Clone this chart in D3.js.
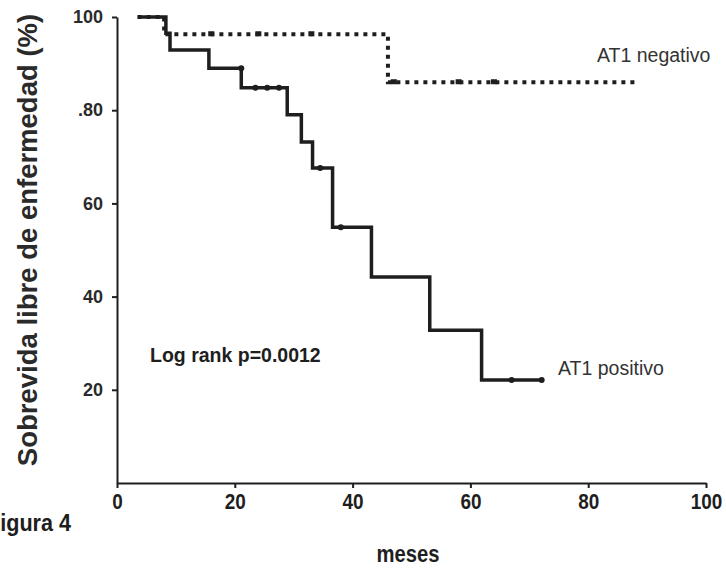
<!DOCTYPE html>
<html>
<head>
<meta charset="utf-8">
<script src="https://cdn.jsdelivr.net/npm/d3@7"></script>
<style>
  body { margin: 0; background: #fff; }
  #chart { width: 726px; height: 570px; }
  text { font-family: "Liberation Sans", Arial, sans-serif; }
</style>
</head>
<body>
<div id="chart"></div>
<script>
// step data (months, % disease-free)
const negTimes = [3.5, 8, 46, 88.5];
const negSurv = [100, 96.3, 86, 86];
const posTimes = [3.5, 8.3, 9, 15.6, 21.1, 28.9, 31.3, 33.2, 36.6, 43.2, 53.1, 61.9, 72.1];
const posSurv = [100, 96.5, 92.9, 89.0, 84.8, 79.0, 73.2, 67.6, 54.9, 44.2, 32.8, 22.1, 22.1];
const posCensorT = [21.1, 23.5, 25.5, 27.5, 34.5, 38, 67, 72.1];
const posCensorS = [89.0, 84.8, 84.8, 84.8, 67.6, 54.9, 22.1, 22.1];
const negCensorT = [16, 24, 33, 47, 58, 64];
const negCensorS = [96.3, 96.3, 96.3, 86, 86, 86];
const xTicks = [0, 20, 40, 60, 80, 100];
const yTicks = [20, 40, 60, 80, 100];
const yTickLabels = ["20", "40", "60", ".80", "100"];

const svg = d3.select("#chart").append("svg").attr("width", 726).attr("height", 570);
const ink = "#1e1e1e";

const x = d3.scaleLinear().domain([0, 100]).range([117, 706]);
const y = d3.scaleLinear().domain([0, 100]).range([483, 17]);

// axes
const xAxis = svg.append("g")
  .attr("transform", `translate(0,${y(0)})`)
  .call(d3.axisBottom(x).tickValues(xTicks).tickSize(5).tickSizeOuter(0).tickPadding(5));
xAxis.selectAll("text").attr("font-weight", "bold").attr("font-size", 22)
  .attr("transform", "scale(0.86,1)").attr("fill", ink);

const yAxis = svg.append("g")
  .attr("transform", `translate(${x(0)},0)`)
  .call(d3.axisLeft(y).tickValues(yTicks).tickSize(5).tickSizeOuter(0).tickPadding(9)
    .tickFormat((d, i) => yTickLabels[i]));
yAxis.selectAll("text").attr("font-weight", "bold").attr("font-size", 18).attr("fill", "#2a2a2a");

svg.selectAll(".domain, .tick line").attr("stroke", ink).attr("stroke-width", 2);

// curves
const line = d3.line().x(d => x(d[0])).y(d => y(d[1])).curve(d3.curveStepAfter);

svg.append("path")
  .datum(negTimes.map((t, i) => [t, negSurv[i]]))
  .attr("d", line).attr("fill", "none").attr("stroke", ink)
  .attr("stroke-width", 4).attr("stroke-dasharray", "4,5");

svg.append("path")
  .datum(posTimes.map((t, i) => [t, posSurv[i]]))
  .attr("d", line).attr("fill", "none").attr("stroke", ink)
  .attr("stroke-width", 3.5);

svg.selectAll(".pc").data(posCensorT).enter().append("circle")
  .attr("cx", d => x(d)).attr("cy", (d, i) => y(posCensorS[i]))
  .attr("r", 3).attr("fill", ink);

svg.selectAll(".nc").data(negCensorT).enter().append("rect")
  .attr("x", d => x(d) - 3).attr("y", (d, i) => y(negCensorS[i]) - 3)
  .attr("width", 6).attr("height", 5).attr("fill", ink);

// labels
svg.append("text").attr("x", 597).attr("y", 62)
  .attr("font-size", 19.5).attr("fill", "#333").text("AT1 negativo");

svg.append("text").attr("x", 558).attr("y", 375)
  .attr("font-size", 19.5).attr("fill", "#333").text("AT1 positivo");

svg.append("text").attr("x", 150).attr("y", 362)
  .attr("font-weight", "bold").attr("font-size", 19.5).attr("fill", ink)
  .text("Log rank p=0.0012");

svg.append("text")
  .attr("transform", "translate(37,240) rotate(-90)")
  .attr("text-anchor", "middle")
  .attr("font-weight", "bold").attr("font-size", 27.5).attr("fill", "#2a2a2a")
  .text("Sobrevida libre de enfermedad (%)");

svg.append("text").attr("transform", "translate(408,562) scale(0.88,1)")
  .attr("text-anchor", "middle").attr("font-weight", "bold")
  .attr("font-size", 23).attr("fill", ink).text("meses");

svg.append("text").attr("transform", "translate(-13,531) scale(0.9,1)")
  .attr("font-weight", "bold").attr("font-size", 24).attr("fill", ink).text("Figura 4");
</script>
</body>
</html>
